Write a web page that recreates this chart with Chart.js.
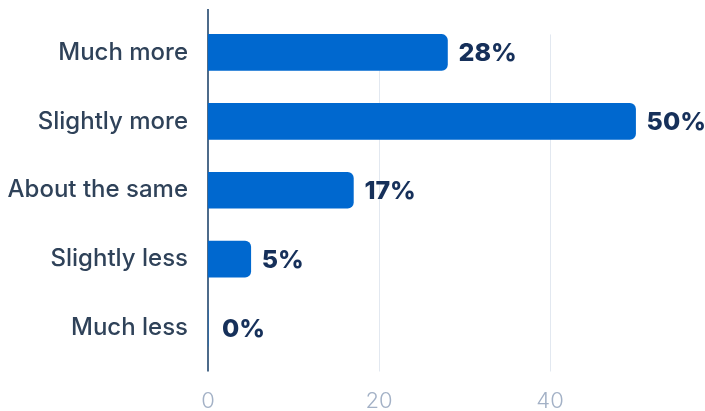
<!DOCTYPE html>
<html>
<head>
<meta charset="utf-8">
<script src="https://cdn.jsdelivr.net/npm/chart.js@4"></script>
<style>
  html, body { margin: 0; padding: 0; background: #fff; }
  #wrap { width: 705px; height: 411px; }
</style>
</head>
<body>
<div id="wrap"><canvas id="graph" width="705" height="411"></canvas></div>
<script>
const answers = ['Much more', 'Slightly more', 'About the same', 'Slightly less', 'Much less'];
const shares = [28, 50, 17, 5, 0]; // percent of respondents
const xTicks = [0, 20, 40];

const barBlue = '#0068cf';
const navy = '#16305a';

// vertical grid lines + the dark axis line, drawn under the bars
const axisLines = {
    id: 'axisLines',
    beforeDatasetsDraw(chart) {
        const { ctx, chartArea, scales } = chart;
        const first = chart.getDatasetMeta(0).data[0];
        const gridTop = first.y - first.height / 2;
        ctx.save();
        ctx.lineWidth = 1;
        ctx.strokeStyle = '#e2e8f0';
        xTicks.forEach(function (v) {
            if (v === 0) return;
            const x = Math.round(scales.x.getPixelForValue(v)) + 0.5;
            ctx.beginPath();
            ctx.moveTo(x, gridTop);
            ctx.lineTo(x, chartArea.bottom + 9);
            ctx.stroke();
        });
        const x0 = scales.x.getPixelForValue(0);
        ctx.lineWidth = 1.5;
        ctx.strokeStyle = '#123a63';
        ctx.beginPath();
        ctx.moveTo(x0, chartArea.top - 9);
        ctx.lineTo(x0, chartArea.bottom + 9);
        ctx.stroke();
        ctx.restore();
    }
};

// percentage labels at the end of each bar
const valueLabels = {
    id: 'valueLabels',
    afterDatasetsDraw(chart) {
        const { ctx } = chart;
        const meta = chart.getDatasetMeta(0);
        ctx.save();
        ctx.font = '800 25px Inter';
        ctx.fillStyle = navy;
        ctx.textAlign = 'left';
        ctx.textBaseline = 'middle';
        meta.data.forEach(function (bar, i) {
            const pad = shares[i] === 0 ? 14 : 11;
            ctx.fillText(shares[i] + '%', bar.x + pad, bar.y + 1);
        });
        ctx.restore();
    }
};

const ctx = document.getElementById('graph').getContext('2d');
const dataChart = new Chart(ctx, {
    type: 'bar',
    data: {
        labels: answers,
        datasets: [
            {
                data: shares,
                backgroundColor: barBlue,
                borderRadius: 6,
                borderSkipped: 'start',
                barThickness: 36
            }
        ]
    },
    options: {
        indexAxis: 'y',
        responsive: false,
        animation: false,
        layout: { padding: { top: 18, right: 1, left: 0, bottom: 0 } },
        plugins: {
            legend: { display: false },
            tooltip: { enabled: false }
        },
        scales: {
            x: {
                min: 0,
                max: 58,
                afterBuildTicks: function (scale) {
                    scale.ticks = xTicks.map(function (v) { return { value: v }; });
                },
                afterFit: function (scale) {
                    scale.height = 48.5;
                    scale.paddingLeft = 0;
                    scale.paddingRight = 0;
                },
                grid: { display: false, drawTicks: false },
                border: { display: false },
                ticks: {
                    padding: 26,
                    color: '#a3b1c6',
                    font: { family: 'Inter', size: 22, weight: 300 }
                }
            },
            y: {
                afterFit: function (scale) {
                    scale.width = 208;
                    scale.paddingTop = 0;
                    scale.paddingBottom = 0;
                },
                grid: { display: false, drawTicks: false },
                border: { display: false },
                ticks: {
                    padding: 20,
                    color: '#2f4259',
                    font: { family: 'Inter', size: 24, weight: 500 }
                }
            }
        }
    },
    plugins: [axisLines, valueLabels]
});
</script>
</body>
</html>
